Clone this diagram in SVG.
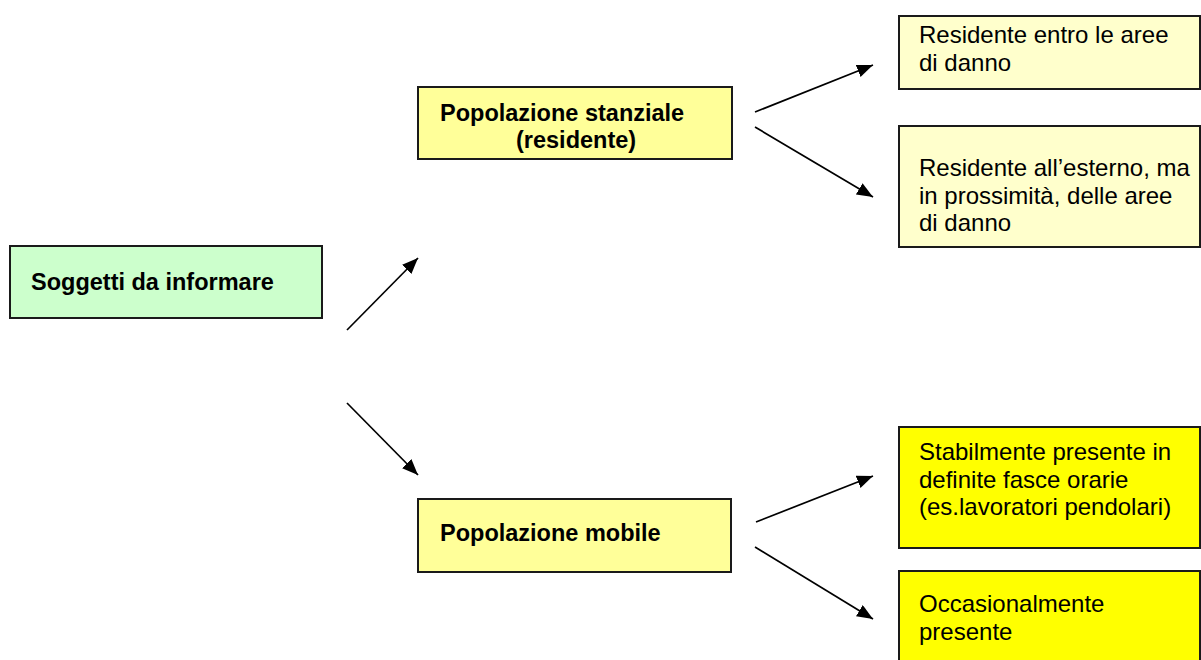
<svg xmlns="http://www.w3.org/2000/svg" width="1201" height="660" viewBox="0 0 1201 660">
  <defs>
    <marker id="arr" markerUnits="userSpaceOnUse" markerWidth="18" markerHeight="14" refX="16" refY="6.5" orient="auto">
      <path d="M0,0 L16,6.5 L0,13 z" fill="#000"/>
    </marker>
    <style>
      .box { stroke: #1a1a1a; stroke-width: 2; }
      .green { fill: #CCFFCC; }
      .mid { fill: #FFFF99; }
      .light { fill: #FFFFCC; }
      .yellow { fill: #FFFF00; }
      .b { font-family: "Liberation Sans", Arial, sans-serif; font-weight: bold; font-size: 23.5px; fill: #000; }
      .t { font-family: "Liberation Sans", Arial, sans-serif; font-size: 24px; fill: #000; }
      .conn line { stroke: #000; stroke-width: 1.7; marker-end: url(#arr); }
    </style>
  </defs>
  <rect width="1201" height="660" fill="#fff"/>

  <g id="soggetti">
    <rect class="box green" x="10" y="246" width="312" height="72"/>
    <text class="b" x="31" y="290">Soggetti da informare</text>
  </g>

  <g id="stanziale">
    <rect class="box mid" x="418" y="87" width="314" height="72"/>
    <text class="b" x="440" y="121">Popolazione stanziale</text>
    <text class="b" x="516" y="148">(residente)</text>
  </g>

  <g id="mobile">
    <rect class="box mid" x="418" y="499" width="313" height="73"/>
    <text class="b" x="440" y="541">Popolazione mobile</text>
  </g>

  <g id="entro">
    <rect class="box light" x="899" y="16" width="301" height="73"/>
    <text class="t" x="919" y="43">Residente entro le aree</text>
    <text class="t" x="919" y="71">di danno</text>
  </g>

  <g id="esterno">
    <rect class="box light" x="899" y="126" width="301" height="121"/>
    <text class="t" x="919" y="176">Residente all’esterno, ma</text>
    <text class="t" x="919" y="203.5">in prossimità, delle aree</text>
    <text class="t" x="919" y="231">di danno</text>
  </g>

  <g id="stabilmente">
    <rect class="box yellow" x="899" y="427" width="301" height="121"/>
    <text class="t" x="919" y="460">Stabilmente presente in</text>
    <text class="t" x="919" y="487.5">definite fasce orarie</text>
    <text class="t" x="919" y="515">(es.lavoratori pendolari)</text>
  </g>

  <g id="occasionalmente">
    <rect class="box yellow" x="899" y="571" width="301" height="100"/>
    <text class="t" x="919" y="612">Occasionalmente</text>
    <text class="t" x="919" y="640">presente</text>
  </g>

  <g class="conn" id="connectors">
    <line x1="347" y1="330" x2="418" y2="258"/>
    <line x1="347" y1="403" x2="418" y2="475"/>
    <line x1="755" y1="112" x2="873" y2="65"/>
    <line x1="755" y1="127" x2="873" y2="197"/>
    <line x1="756" y1="522" x2="873" y2="476"/>
    <line x1="755" y1="547" x2="873" y2="619"/>
  </g>
</svg>
